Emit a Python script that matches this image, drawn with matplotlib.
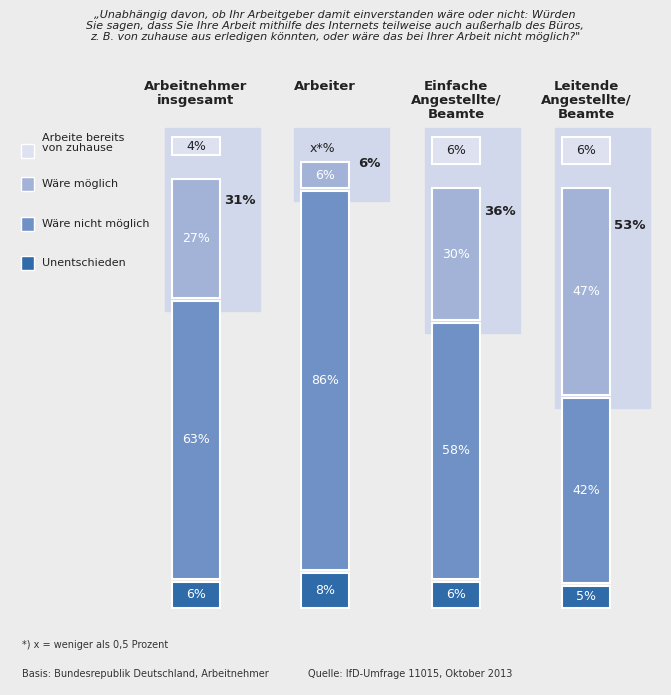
import matplotlib.pyplot as plt
from matplotlib.patches import Rectangle

groups = ['Arbeitnehmer\ninsgesamt', 'Arbeiter', 'Einfache\nAngestellte/\nBeamte', 'Leitende\nAngestellte/\nBeamte']
unentschieden = [6, 8, 6, 5]
nicht_moeglich = [63, 86, 58, 42]
moeglich = [27, 6, 30, 47]
bereits = [4, 0, 6, 6]
bereits_labels = ['4%', 'x*%', '6%', '6%']
potenzial = [31, 6, 36, 53]

legend_labels = ['Arbeite bereits\nvon zuhause', 'Wäre möglich', 'Wäre nicht möglich', 'Unentschieden']

c_bg = '#ececec'
c_hi = '#d2d8eb'
c_ber = '#dde1f0'
c_moe = '#a3b3d8'
c_nicht = '#7091c5'
c_unent = '#2f6aa9'

# pixel-like x, percent y (4.4 px per percent, 0 at pixel 608)
S = 4.4
x_left = [172, 301, 432, 562]
bw = 48
gap = 0.7
top_box = 107

fig = plt.figure(figsize=(6.71, 6.95), dpi=100)
fig.patch.set_facecolor(c_bg)
ax = fig.add_axes([0, 0, 1, 1])
ax.set_xlim(0, 671)
ax.set_ylim((608 - 695) / S, 608 / S)
ax.axis('off')
ax.set_facecolor(c_bg)

for i in range(4):
    x = x_left[i]
    base_m = unentschieden[i] + nicht_moeglich[i] + 2 * gap
    # highlight background
    hb = base_m - 3
    ax.add_patch(Rectangle((x - 7, hb), bw + 47, top_box + 2 - hb, color=c_hi, zorder=1))
    y = 0
    for val, col in [(unentschieden[i], c_unent), (nicht_moeglich[i], c_nicht), (moeglich[i], c_moe)]:
        ax.add_patch(Rectangle((x, y), bw, val, facecolor=col, edgecolor='white', lw=1.5, zorder=3))
        ax.text(x + bw / 2, y + val / 2, f'{val}%', ha='center', va='center',
                color='white', fontsize=9, zorder=4)
        y += val + gap
    if bereits[i] > 0:
        ax.add_patch(Rectangle((x, top_box - bereits[i]), bw, bereits[i], facecolor=c_ber,
                               edgecolor='white', lw=1.5, zorder=3))
        ax.text(x + bw / 2, top_box - bereits[i] / 2, bereits_labels[i], ha='center', va='center',
                color='#222222', fontsize=9, zorder=4)
    else:
        ax.text(x + bw / 2 - 3, top_box - 2.5, bereits_labels[i], ha='center', va='center',
                color='#222222', fontsize=9, zorder=4)
    py = base_m + moeglich[i] * 0.82 if i != 1 else top_box - 6
    ax.text(x + bw + 20, py, f'{potenzial[i]}%', ha='center', va='center',
            color='#222222', fontsize=9.5, fontweight='bold', zorder=4)
    ax.text(x + bw / 2, (608 - 80) / S, groups[i], ha='center', va='top',
            color='#222222', fontsize=9.5, fontweight='bold', linespacing=1.1)

legend_cols = [c_ber, c_moe, c_nicht, c_unent]
legend_y = [151, 184, 224, 263]
for col, lab, py in zip(legend_cols, legend_labels, legend_y):
    yd = (608 - py) / S
    ax.add_patch(Rectangle((21, yd - 1.6), 13, 3.2, facecolor=col, edgecolor='white', lw=1, zorder=3))
    ax.text(42, yd + (1.8 if '\n' in lab else 0), lab, ha='left', va='center', fontsize=8,
            color='#222222', linespacing=1.1)

title = ('„Unabhängig davon, ob Ihr Arbeitgeber damit einverstanden wäre oder nicht: Würden\n'
         'Sie sagen, dass Sie Ihre Arbeit mithilfe des Internets teilweise auch außerhalb des Büros,\n'
         'z. B. von zuhause aus erledigen könnten, oder wäre das bei Ihrer Arbeit nicht möglich?"')
ax.text(335, (608 - 10) / S, title, ha='center', va='top', fontsize=8, style='italic',
        color='#222222', linespacing=1.15)

ax.text(22, (608 - 645) / S, '*) x = weniger als 0,5 Prozent', ha='left', va='center', fontsize=7, color='#333333')
ax.text(22, (608 - 674) / S, 'Basis: Bundesrepublik Deutschland, Arbeitnehmer', ha='left', va='center', fontsize=7, color='#333333')
ax.text(308, (608 - 674) / S, 'Quelle: IfD-Umfrage 11015, Oktober 2013', ha='left', va='center', fontsize=7, color='#333333')

fig.savefig('out.png', dpi=100, facecolor=c_bg)
